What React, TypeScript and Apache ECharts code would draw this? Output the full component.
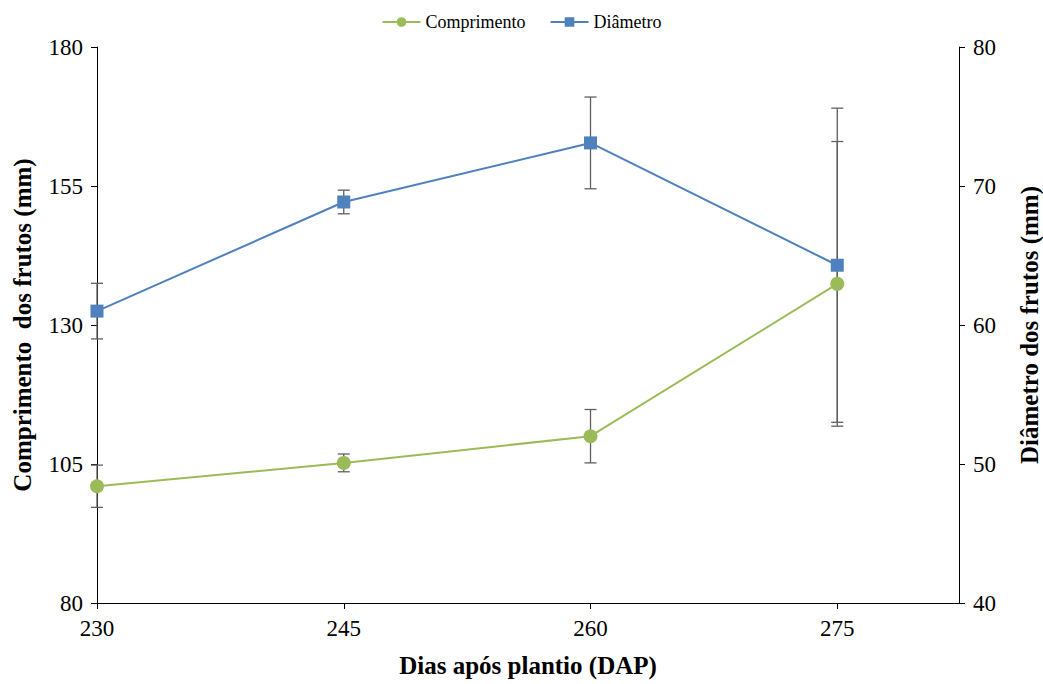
import React, { useEffect, useRef } from "react";
import * as echarts from "echarts";

const days = [230, 245, 260, 275];
const comprimento = [101.0, 105.2, 110.0, 137.4];
const comprimentoErr = [3.8, 1.6, 4.8, 25.6];
const diametro = [61.0, 68.85, 73.1, 64.3];
const diametroErr = [2.0, 0.85, 3.3, 11.3];
const xTicks = [230, 245, 260, 275];

const FONT = "Liberation Serif";
const GREEN = "#9BBB59";
const BLUE = "#4F81BD";
const ERR = "#5f5f5f";

function errorRender(params: any, api: any) {
  const x = api.value(0);
  const lo = api.value(1);
  const hi = api.value(2);
  const pLo = api.coord([x, lo]);
  const pHi = api.coord([x, hi]);
  const w = 6;
  const style = { stroke: ERR, lineWidth: 1.3 };
  return {
    type: "group",
    children: [
      { type: "line", shape: { x1: pLo[0], y1: pLo[1], x2: pHi[0], y2: pHi[1] }, style },
      { type: "line", shape: { x1: pLo[0] - w, y1: pLo[1], x2: pLo[0] + w, y2: pLo[1] }, style },
      { type: "line", shape: { x1: pHi[0] - w, y1: pHi[1], x2: pHi[0] + w, y2: pHi[1] }, style },
    ],
  };
}

export default function App() {
  const ref = useRef<HTMLDivElement>(null);
  useEffect(() => {
    if (!ref.current) return;
    const chart = echarts.init(ref.current, null, { renderer: "svg" });
    const axisLine = { show: true, lineStyle: { color: "#000", width: 1 } };
    chart.setOption({
      animation: false,
      backgroundColor: "#fff",
      textStyle: { fontFamily: FONT },
      legend: {
        top: 8,
        left: "center",
        itemWidth: 38,
        itemHeight: 12,
        itemGap: 24,
        textStyle: { fontFamily: FONT, fontSize: 18, color: "#000" },
        data: ["Comprimento", "Diâmetro"],
      },
      grid: { left: 97, right: 84, top: 47, bottom: 81, containLabel: false, outerBoundsMode: "none" },
      xAxis: {
        type: "value",
        min: 230,
        max: 282.4,
        name: "Dias após plantio (DAP)",
        nameLocation: "middle",
        nameGap: 50,
        nameTextStyle: { fontFamily: FONT, fontSize: 25, fontWeight: "bold", color: "#000" },
        axisLine,
        axisTick: { show: true, length: 6, customValues: xTicks, lineStyle: { color: "#000" } },
        axisLabel: { customValues: xTicks, fontFamily: FONT, fontSize: 23, color: "#000", margin: 14 },
        splitLine: { show: false },
      },
      yAxis: [
        {
          type: "value",
          min: 80,
          max: 180,
          interval: 25,
          position: "left",
          name: "Comprimento  dos frutos (mm)",
          nameLocation: "middle",
          nameGap: 62,
          nameRotate: 90,
          nameTextStyle: { fontFamily: FONT, fontSize: 25, fontWeight: "bold", color: "#000" },
          axisLine,
          axisTick: { show: true, length: 6, lineStyle: { color: "#000" } },
          axisLabel: { fontFamily: FONT, fontSize: 23, color: "#000", margin: 14 },
          splitLine: { show: false },
        },
        {
          type: "value",
          min: 40,
          max: 80,
          interval: 10,
          position: "right",
          name: "Diâmetro dos frutos (mm)",
          nameLocation: "middle",
          nameGap: 58,
          nameRotate: 90,
          nameTextStyle: { fontFamily: FONT, fontSize: 25, fontWeight: "bold", color: "#000" },
          axisLine,
          axisTick: { show: true, length: 6, lineStyle: { color: "#000" } },
          axisLabel: { fontFamily: FONT, fontSize: 23, color: "#000", margin: 14 },
          splitLine: { show: false },
        },
      ],
      series: [
        {
          type: "custom",
          name: "errC",
          yAxisIndex: 0,
          renderItem: errorRender,
          data: days.map((d, i) => [d, comprimento[i] - comprimentoErr[i], comprimento[i] + comprimentoErr[i]]),
          z: 1,
          silent: true,
        },
        {
          type: "custom",
          name: "errD",
          yAxisIndex: 1,
          renderItem: errorRender,
          data: days.map((d, i) => [d, diametro[i] - diametroErr[i], diametro[i] + diametroErr[i]]),
          z: 1,
          silent: true,
        },
        {
          type: "line",
          name: "Comprimento",
          yAxisIndex: 0,
          data: days.map((d, i) => [d, comprimento[i]]),
          symbol: "circle",
          symbolSize: 14,
          itemStyle: { color: GREEN },
          lineStyle: { color: GREEN, width: 2 },
          z: 3,
        },
        {
          type: "line",
          name: "Diâmetro",
          yAxisIndex: 1,
          data: days.map((d, i) => [d, diametro[i]]),
          symbol: "rect",
          symbolSize: 13,
          itemStyle: { color: BLUE },
          lineStyle: { color: BLUE, width: 2 },
          z: 3,
        },
      ],
    });
    return () => chart.dispose();
  }, []);
  return <div ref={ref} style={{ width: 1043, height: 684, position: "absolute", left: 0, top: 0 }} />;
}
